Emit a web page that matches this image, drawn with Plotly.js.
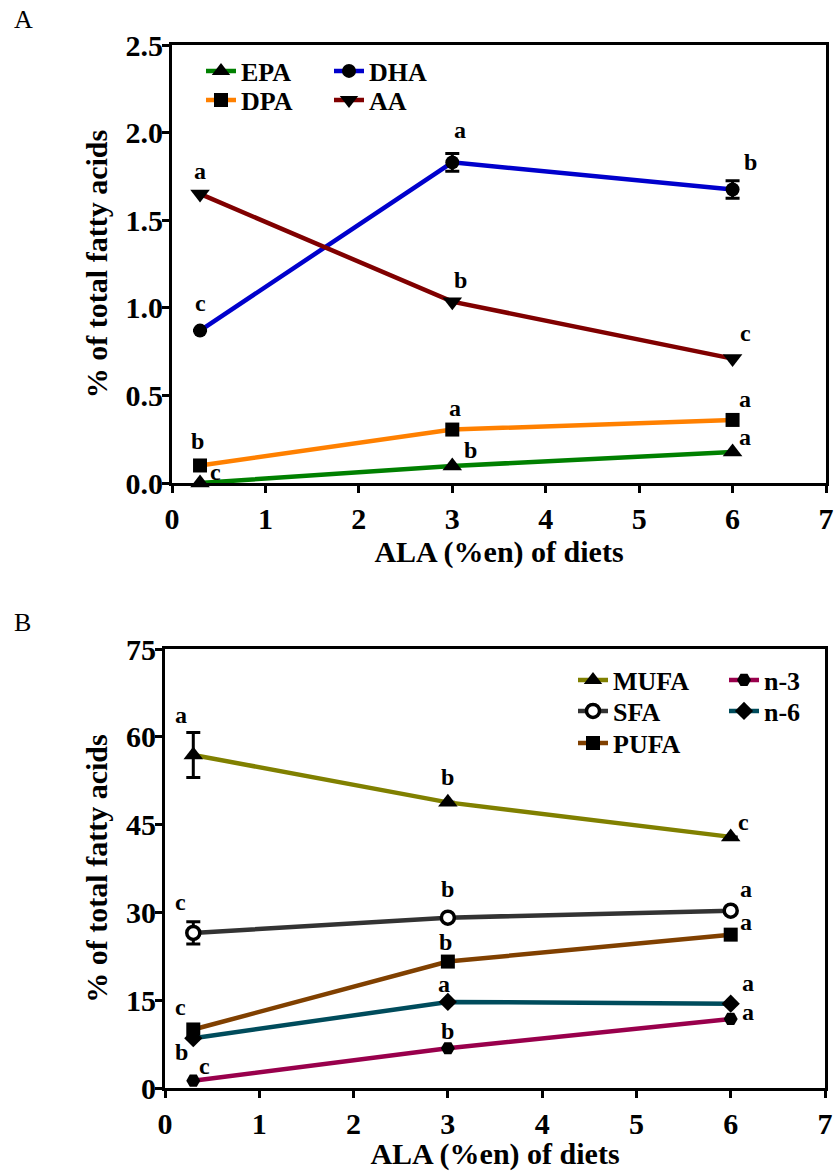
<!DOCTYPE html>
<html>
<head>
<meta charset="utf-8">
<script src="https://cdn.plot.ly/plotly-3.0.1.min.js"></script>
<style>html,body{margin:0;padding:0;background:#fff;}#chart{width:834px;height:1171px;}</style>
</head>
<body>
<div id="chart"></div>
<script>
// ---------- DATA ----------
const xDiet = [0.3, 3, 6];

// Panel A
const EPA = [0.0, 0.097, 0.177];
const DPA = [0.10, 0.305, 0.36];
const DHA = [0.87, 1.83, 1.675];
const DHA_err = [null, 0.05, 0.05];
const AA  = [1.65, 1.035, 0.71];
const EPA_letters = ['c', 'b', 'a'];
const DPA_letters = ['b', 'a', 'a'];
const DHA_letters = ['c', 'a', 'b'];
const AA_letters  = ['a', 'b', 'c'];

// Panel B
const MUFA = [56.9, 48.8, 42.9];
const MUFA_err = [3.85, null, null];
const SFA  = [26.5, 29.1, 30.3];
const SFA_err = [1.9, null, null];
const PUFA = [10.0, 21.6, 26.2];
const N3   = [1.25, 6.8, 11.8];
const N6   = [8.5, 14.7, 14.4];
const MUFA_letters = ['a', 'b', 'c'];
const SFA_letters  = ['c', 'b', 'a'];
const PUFA_letters = ['c', 'b', 'a'];
const N3_letters   = ['c', 'b', 'a'];
const N6_letters   = ['b', 'a', 'a'];

const xTicks = [0, 1, 2, 3, 4, 5, 6, 7];
const yTicksA = [0, 0.5, 1.0, 1.5, 2.0, 2.5];
const yTicksB = [0, 15, 30, 45, 60, 75];

// ---------- STYLE ----------
const FONT = 'Liberation Serif';
const W = 834, H = 1171;

function series(name, y, color, symbol, xa, ya, legend, err, open) {
  const tri = symbol.indexOf('triangle') === 0;
  const t = {
    type: 'scatter', mode: 'lines+markers', name: name,
    x: xDiet, y: y, xaxis: xa, yaxis: ya, legend: legend,
    line: {color: color, width: 4.5},
    marker: {color: open ? 'white' : 'black', symbol: symbol, size: open ? 13 : (tri ? 17 : 14),
             line: {color: 'black', width: open ? 3.5 : 0}},
    cliponaxis: false
  };
  if (err) t.error_y = {type: 'data', array: err, visible: true, color: 'black', thickness: 3, width: 7};
  return t;
}

const traces = [
  series('EPA', EPA, '#008000', 'triangle-up', 'x', 'y', 'legend'),
  series('DPA', DPA, '#FF8000', 'square', 'x', 'y', 'legend2'),
  series('DHA', DHA, '#0000CC', 'circle', 'x', 'y', 'legend3', DHA_err),
  series('AA',  AA,  '#800000', 'triangle-down', 'x', 'y', 'legend4'),
  series('MUFA', MUFA, '#808000', 'triangle-up', 'x2', 'y2', 'legend5', MUFA_err),
  series('SFA',  SFA,  '#333333', 'circle', 'x2', 'y2', 'legend6', SFA_err, true),
  series('PUFA', PUFA, '#804000', 'square', 'x2', 'y2', 'legend7'),
  series('n-3',  N3,   '#99004C', 'hexagon2', 'x2', 'y2', 'legend8'),
  series('n-6',  N6,   '#004C5C', 'diamond', 'x2', 'y2', 'legend9')
];

// letter offsets (px) relative to each marker
const offA = {
  EPA: [[15, 11], [18, 16], [12, 15]],
  DPA: [[-3, 24], [3, 22], [12, 21]],
  DHA: [[0, 28], [8, 32], [18, 28]],
  AA:  [[0, 23], [8, 22], [13, 26]]
};
const offB = {
  MUFA: [[-12, 40], [0, 25], [13, 15]],
  SFA:  [[-13, 31], [0, 29], [15, 22]],
  PUFA: [[-13, 22], [-2, 20], [15, 13]],
  N3:   [[11, 15], [0, 17], [17, 7]],
  N6:   [[-12, -14], [-4, 18], [17, 21]]
};

const annotations = [];
function letters(vals, lets, offs, xr, yr) {
  for (let i = 0; i < vals.length; i++) {
    annotations.push({
      x: xDiet[i], y: vals[i], xref: xr, yref: yr, text: lets[i], showarrow: false,
      xshift: offs[i][0], yshift: offs[i][1],
      font: {family: FONT, size: 24, color: 'black', weight: 'bold'}
    });
  }
}
letters(EPA, EPA_letters, offA.EPA, 'x', 'y');
letters(DPA, DPA_letters, offA.DPA, 'x', 'y');
letters(DHA, DHA_letters, offA.DHA, 'x', 'y');
letters(AA, AA_letters, offA.AA, 'x', 'y');
letters(MUFA, MUFA_letters, offB.MUFA, 'x2', 'y2');
letters(SFA, SFA_letters, offB.SFA, 'x2', 'y2');
letters(PUFA, PUFA_letters, offB.PUFA, 'x2', 'y2');
letters(N3, N3_letters, offB.N3, 'x2', 'y2');
letters(N6, N6_letters, offB.N6, 'x2', 'y2');

// panel labels
annotations.push({xref: 'paper', yref: 'paper', x: 12 / W, y: 1 - 20 / H, text: 'A', showarrow: false,
  xanchor: 'left', yanchor: 'middle', font: {family: FONT, size: 26, color: 'black'}});
annotations.push({xref: 'paper', yref: 'paper', x: 12 / W, y: 1 - 622 / H, text: 'B', showarrow: false,
  xanchor: 'left', yanchor: 'middle', font: {family: FONT, size: 26, color: 'black'}});

const tickFont = {family: FONT, size: 30, color: 'black', weight: 'bold'};
const titleFont = {family: FONT, size: 30, color: 'black', weight: 'bold'};

function xaxis(dom, anchor) {
  return {
    domain: dom, anchor: anchor, range: [0, 7], tickvals: xTicks, ticktext: xTicks.map(String),
    showline: true, linecolor: 'black', linewidth: 3, mirror: true,
    ticks: 'outside', ticklen: 7, tickwidth: 3, tickcolor: 'black',
    showgrid: false, zeroline: false, tickfont: tickFont,
    title: {text: 'ALA (%en) of diets', font: titleFont, standoff: 4}
  };
}
function yaxis(dom, anchor, rng, ticks, fmt) {
  return {
    domain: dom, anchor: anchor, range: rng, tickvals: ticks, ticktext: ticks.map(v => v.toFixed(fmt)),
    showline: true, linecolor: 'black', linewidth: 3, mirror: true,
    ticks: 'outside', ticklen: 7, tickwidth: 3, tickcolor: 'black', ticklabelstandoff: -7,
    showgrid: false, zeroline: false, tickfont: tickFont,
    title: {text: '% of total fatty acids', font: titleFont, standoff: 10}
  };
}

const legFont = {family: FONT, size: 26, color: 'black', weight: 'bold'};
function leg(xLine, yMid) {
  return {x: (xLine + 1) / W, y: 1 - yMid / H, xanchor: 'left', yanchor: 'middle', bgcolor: 'rgba(0,0,0,0)',
    font: legFont, borderwidth: 0, tracegroupgap: 0, itemwidth: 30};
}

const layout = {
  width: W, height: H, autosize: false,
  margin: {l: 0, r: 0, t: 0, b: 0},
  paper_bgcolor: 'white', plot_bgcolor: 'white',
  font: {family: FONT, color: 'black'},
  xaxis: xaxis([172 / W, 826 / W], 'y'),
  yaxis: yaxis([1 - 483 / H, 1 - 45 / H], 'x', [0, 2.5], yTicksA, 1),
  xaxis2: xaxis([165 / W, 825 / W], 'y2'),
  yaxis2: yaxis([1 - 1088 / H, 1 - 649 / H], 'x2', [0, 75], yTicksB, 0),
  legend:  leg(200, 71),
  legend2: leg(200, 100),
  legend3: leg(328, 71),
  legend4: leg(328, 100),
  legend5: leg(572, 680),
  legend6: leg(572, 711),
  legend7: leg(572, 743),
  legend8: leg(723, 680),
  legend9: leg(723, 711),
  annotations: annotations,
  showlegend: true
};

Plotly.newPlot('chart', traces, layout, {staticPlot: true, displayModeBar: false});
</script>
</body>
</html>
